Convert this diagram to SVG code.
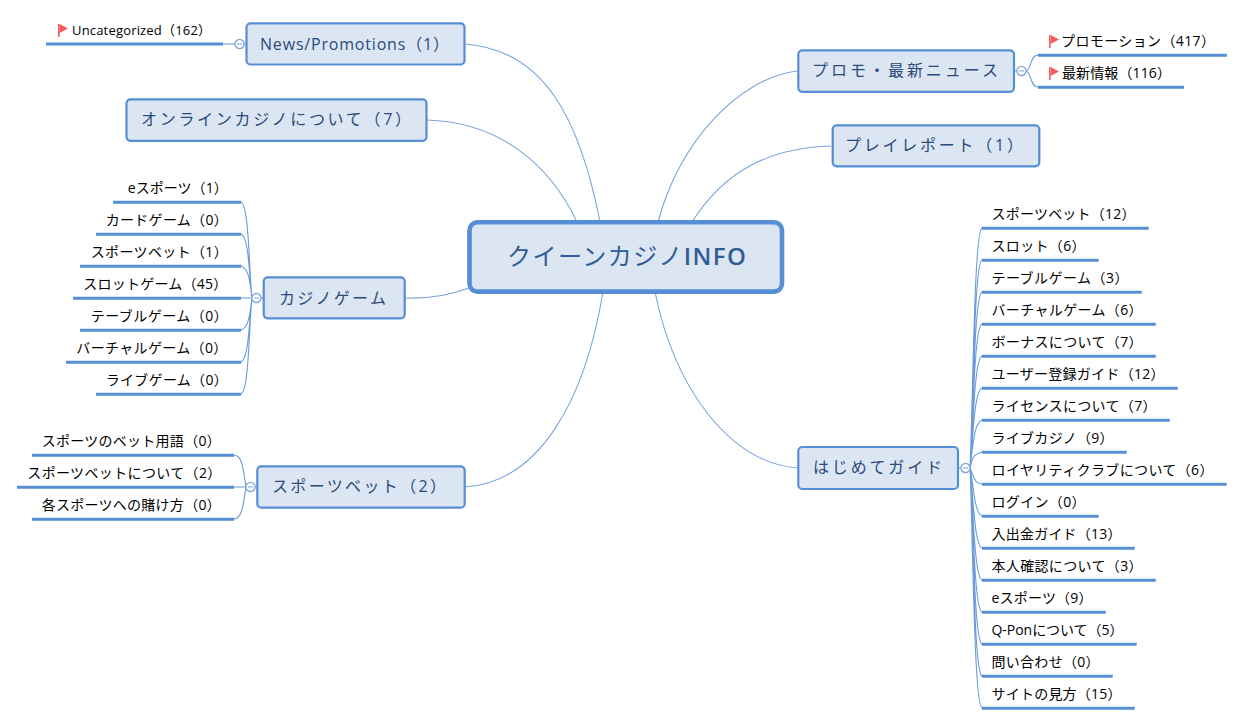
<svg xmlns="http://www.w3.org/2000/svg" width="1245" height="725" viewBox="0 0 1245 725">
<style>
text{font-family:"Open Sans","Noto Sans CJK JP","Noto Sans",sans-serif;}
.n rect{fill:#dce6f2;stroke:#558ed5;stroke-width:2.2;}
.n text{font-size:16px;fill:#2a4a7c;}
.l{font-size:14px;fill:#000;}
.u{stroke:#558ed5;stroke-width:3;fill:none;}
.c{stroke:#7aa5dc;stroke-width:1.1;fill:none;}
.s{stroke:#6b9bdb;stroke-width:1.1;fill:none;}
.t{fill:#fff;stroke:#7aa5dc;stroke-width:1.3;}
.f{fill:#f15b5b;}
</style>
<defs>
<g id="flag"><rect class="f" x="0" y="0" width="1.6" height="13"/><path class="f" d="M1.6,0L10,4.5L1.6,9Z"/></g>
<g id="tog"><circle class="t" r="4.6"/><path d="M-2.5,0H2.5" stroke="#7aa5dc" stroke-width="1"/></g>
</defs>
<g id="connectors">
<path class="c" d="M465,44C545,50 580,120 600,222"/>
<path class="c" d="M427,120C500,122 550,165 577,222"/>
<path class="c" d="M797,71C740,78 680,140 658,222"/>
<path class="c" d="M831,146C770,148 725,170 692,222"/>
<path class="c" d="M405,298C430,299 450,295 469,288"/>
<path class="c" d="M465,487C540,482 585,400 603,292"/>
<path class="c" d="M797,468C730,462 675,390 655,292"/>
<path class="s" d="M223,44H235M244,44H246"/>
<path class="s" d="M1015,71H1017M1026,71C1031,71 1030,55 1038,55M1026,71C1031,71 1030,87 1038,87"/>
<path class="s" d="M241,298H252M261,298H263"/>
<path class="s" d="M252,298C249,270 249,205 241,202M252,298C249,275 249,237 241,234M252,298C250,285 250,269 241,266M252,298C250,310 250,327 241,330M252,298C249,320 249,359 241,362M252,298C249,325 249,391 241,394"/>
<path class="s" d="M234,487H246M255,487H257"/>
<path class="s" d="M246,487C243,470 243,456 234,455M246,487C243,503 243,518 234,519"/>
<path class="s" d="M959,468H961M970,468C973,400 974,232 982,228M970,468C973,410 974,263 982,260M970,468C973,420 974,295 982,292M970,468C973,425 974,327 982,324M970,468C973,435 974,359 982,356M970,468C973,440 974,391 982,388M970,468C973,445 974,423 982,420M970,468C973,455 974,455 982,452M970,468C973,474 974,484 982,484M970,468C973,480 974,513 982,516M970,468C973,490 974,545 982,548M970,468C973,500 974,577 982,580M970,468C973,510 974,609 982,612M970,468C973,520 974,641 982,644M970,468C973,530 974,673 982,676M970,468C973,540 974,705 982,708"/>
</g>
<g id="root" class="n"><rect x="469.5" y="222.3" width="312.5" height="69.3" rx="8" style="stroke-width:4.6"/><text x="507" y="265" textLength="239" style="font-size:24px;fill:#2f5d95">クイーンカジノ<tspan font-weight="600">INFO</tspan></text></g>
<g id="news" class="n"><rect x="246.5" y="23.3" width="218" height="41.2" rx="4"/><text x="260" y="49.5" textLength="189">News/Promotions（1）</text></g>
<g id="online" class="n"><rect x="126.5" y="99.3" width="300" height="41.5" rx="4"/><text x="141" y="124.5" textLength="270">オンラインカジノについて（7）</text></g>
<g id="promo" class="n"><rect x="798.3" y="50.3" width="215.7" height="41.5" rx="4"/><text x="812" y="75.5" textLength="186">プロモ・最新ニュース</text></g>
<g id="play" class="n"><rect x="832.7" y="125.3" width="206.6" height="41" rx="4"/><text x="845" y="150.5" textLength="178">プレイレポート（1）</text></g>
<g id="casino" class="n"><rect x="263.7" y="277.3" width="141" height="41" rx="4"/><text x="279" y="303.5" textLength="107">カジノゲーム</text></g>
<g id="sports" class="n"><rect x="257.3" y="466.3" width="207.4" height="41.4" rx="4"/><text x="272" y="491.5" textLength="174">スポーツベット（2）</text></g>
<g id="guide" class="n"><rect x="798.3" y="447" width="159.7" height="42" rx="4"/><text x="813" y="473" textLength="129">はじめてガイド</text></g>
<g id="toggles"><use href="#tog" x="239.5" y="44"/><use href="#tog" x="1021.5" y="71"/><use href="#tog" x="256.5" y="298"/><use href="#tog" x="250.5" y="487"/><use href="#tog" x="965.5" y="468"/></g>
<g id="leaf-uncat"><use href="#flag" x="58" y="24"/><text class="l" x="72" y="35" textLength="139" style="font-size:13px">Uncategorized（162）</text><path class="u" d="M46,44H223"/></g>
<g id="leaf-promo1"><use href="#flag" x="1049" y="35"/><text class="l" x="1061" y="46" textLength="154">プロモーション（417）</text><path class="u" d="M1038,55.3H1227"/></g>
<g id="leaf-news1"><use href="#flag" x="1049" y="67"/><text class="l" x="1062" y="78" textLength="109">最新情報（116）</text><path class="u" d="M1038,87.3H1184"/></g>
<g id="leaf-c1"><text class="l" x="127.7" y="193" textLength="100">eスポーツ（1）</text><path class="u" d="M113,202.3H241"/></g>
<g id="leaf-c2"><text class="l" x="105.7" y="225" textLength="122">カードゲーム（0）</text><path class="u" d="M96,234.3H241"/></g>
<g id="leaf-c3"><text class="l" x="90.7" y="257" textLength="137">スポーツベット（1）</text><path class="u" d="M80,266.3H241"/></g>
<g id="leaf-c4"><text class="l" x="83.3" y="289" textLength="144">スロットゲーム（45）</text><path class="u" d="M73,298.3H241"/></g>
<g id="leaf-c5"><text class="l" x="90.7" y="321" textLength="137">テーブルゲーム（0）</text><path class="u" d="M80,330.3H241"/></g>
<g id="leaf-c6"><text class="l" x="76.3" y="353" textLength="151">バーチャルゲーム（0）</text><path class="u" d="M66,362.3H241"/></g>
<g id="leaf-c7"><text class="l" x="105.7" y="385" textLength="122">ライブゲーム（0）</text><path class="u" d="M96,394.3H241"/></g>
<g id="leaf-s1"><text class="l" x="41.7" y="446" textLength="179">スポーツのベット用語（0）</text><path class="u" d="M32,455.3H234"/></g>
<g id="leaf-s2"><text class="l" x="27.3" y="478" textLength="194">スポーツベットについて（2）</text><path class="u" d="M17,487.3H234"/></g>
<g id="leaf-s3"><text class="l" x="41.7" y="510" textLength="179">各スポーツへの賭け方（0）</text><path class="u" d="M32,519.3H234"/></g>
<g id="leaf-g1"><text class="l" x="991.5" y="219" textLength="144">スポーツベット（12）</text><path class="u" d="M982,228.3H1148.7"/></g>
<g id="leaf-g2"><text class="l" x="991.5" y="251" textLength="94">スロット（6）</text><path class="u" d="M982,260.3H1098.7"/></g>
<g id="leaf-g3"><text class="l" x="991.5" y="283" textLength="137">テーブルゲーム（3）</text><path class="u" d="M982,292.3H1141.7"/></g>
<g id="leaf-g4"><text class="l" x="991.5" y="315" textLength="151">バーチャルゲーム（6）</text><path class="u" d="M982,324.3H1155.7"/></g>
<g id="leaf-g5"><text class="l" x="991.5" y="347" textLength="151">ボーナスについて（7）</text><path class="u" d="M982,356.3H1155.7"/></g>
<g id="leaf-g6"><text class="l" x="991.5" y="379" textLength="173">ユーザー登録ガイド（12）</text><path class="u" d="M982,388.3H1177.7"/></g>
<g id="leaf-g7"><text class="l" x="991.5" y="411" textLength="165">ライセンスについて（7）</text><path class="u" d="M982,420.3H1169.7"/></g>
<g id="leaf-g8"><text class="l" x="991.5" y="443" textLength="122">ライブカジノ（9）</text><path class="u" d="M982,452.3H1126.7"/></g>
<g id="leaf-g9"><text class="l" x="991.5" y="475" textLength="222">ロイヤリティクラブについて（6）</text><path class="u" d="M982,484.3H1226.7"/></g>
<g id="leaf-g10"><text class="l" x="991.5" y="507" textLength="94">ログイン（0）</text><path class="u" d="M982,516.3H1098.7"/></g>
<g id="leaf-g11"><text class="l" x="991.5" y="539" textLength="130">入出金ガイド（13）</text><path class="u" d="M982,548.3H1134.7"/></g>
<g id="leaf-g12"><text class="l" x="991.5" y="571" textLength="151">本人確認について（3）</text><path class="u" d="M982,580.3H1155.7"/></g>
<g id="leaf-g13"><text class="l" x="991.5" y="603" textLength="101">eスポーツ（9）</text><path class="u" d="M982,612.3H1105.7"/></g>
<g id="leaf-g14"><text class="l" x="991.5" y="635" textLength="132">Q-Ponについて（5）</text><path class="u" d="M982,644.3H1136.7"/></g>
<g id="leaf-g15"><text class="l" x="991.5" y="667" textLength="108">問い合わせ（0）</text><path class="u" d="M982,676.3H1112.7"/></g>
<g id="leaf-g16"><text class="l" x="991.5" y="699" textLength="130">サイトの見方（15）</text><path class="u" d="M982,708.3H1134.7"/></g>
</svg>
